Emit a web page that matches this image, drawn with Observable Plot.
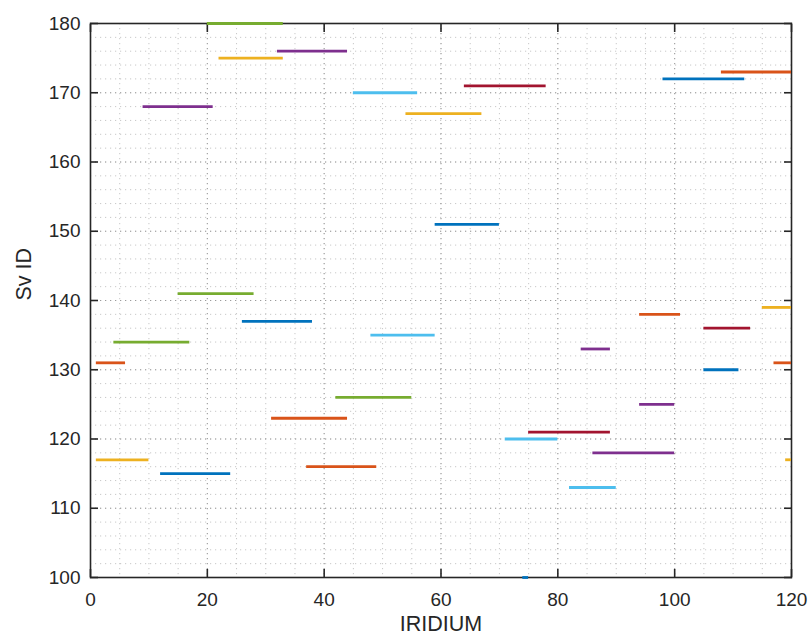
<!DOCTYPE html>
<html>
<head>
<meta charset="utf-8">
<script src="https://cdn.jsdelivr.net/npm/d3@7"></script>
<script src="https://cdn.jsdelivr.net/npm/@observablehq/plot@0.6"></script>
<style>
  html, body { margin: 0; padding: 0; background: #fff; }
  #chart svg { display: block; }
</style>
</head>
<body>
<div id="chart"></div>
<script>
// Satellite visibility passes: Sv ID, start, end (IRIDIUM axis), colour group
const svIds  = [100, 113, 115, 116, 117, 117, 118, 120, 121, 123, 125, 126, 130, 131, 131, 133, 134,
                135, 136, 137, 138, 139, 141, 151, 167, 168, 170, 171, 172, 173, 175, 176, 180];
const starts = [74, 82, 12, 37, 1, 119, 86, 71, 75, 31, 94, 42, 105, 1, 117, 84, 4,
                48, 105, 26, 94, 115, 15, 59, 54, 9, 45, 64, 98, 108, 22, 32, 20];
const ends   = [75, 90, 24, 49, 10, 120, 100, 80, 89, 44, 100, 55, 111, 6, 120, 89, 17,
                59, 113, 38, 101, 120, 28, 70, 67, 21, 56, 78, 112, 120, 33, 44, 33];
const groups = [0, 5, 0, 1, 2, 2, 3, 5, 6, 1, 3, 4, 0, 1, 1, 3, 4,
                5, 6, 0, 1, 2, 4, 0, 2, 3, 5, 6, 0, 1, 2, 3, 4];

const palette = ["#0072BD", "#D95319", "#EDB120", "#7E2F8E", "#77AC30", "#4DBEEE", "#A2142F"];

const xMajor = [0, 20, 40, 60, 80, 100, 120];
const yMajor = [100, 110, 120, 130, 140, 150, 160, 170, 180];
const xMinor = d3.range(5, 120, 5);
const yMinor = d3.range(102, 180, 2);

const data = svIds.map((sv, i) => ({sv, start: starts[i], end: ends[i], g: groups[i]}));

const axisColor = "#262626";
const font = "'Liberation Sans', Arial, Helvetica, sans-serif";

const chart = Plot.plot({
  width: 809,
  height: 640,
  marginLeft: 90,
  marginRight: 18,
  marginTop: 23,
  marginBottom: 63,
  style: {fontFamily: font, color: axisColor, background: "#fff"},
  x: {domain: [0, 120], ticks: xMajor},
  y: {domain: [100, 180], ticks: yMajor},
  color: {type: "ordinal", domain: d3.range(7), range: palette},
  marks: [
    // minor grid
    Plot.gridX(xMinor, {stroke: "#b0b0b0", strokeOpacity: 0.7, strokeDasharray: "1.2,3.8", strokeWidth: 1}),
    Plot.gridY(yMinor, {stroke: "#b0b0b0", strokeOpacity: 0.7, strokeDasharray: "1.2,3.8", strokeWidth: 1}),
    // major grid
    Plot.gridX(xMajor.slice(1, -1), {stroke: "#909090", strokeOpacity: 0.8, strokeDasharray: "1.2,3.8", strokeWidth: 1}),
    Plot.gridY(yMajor.slice(1, -1), {stroke: "#909090", strokeOpacity: 0.8, strokeDasharray: "1.2,3.8", strokeWidth: 1}),
    Plot.frame({stroke: axisColor, strokeWidth: 1.6}),
    // inward ticks on all sides
    Plot.axisX(xMajor, {anchor: "bottom", tickSize: -8, strokeWidth: 1.6, stroke: axisColor, tickFormat: () => "", label: null}),
    Plot.axisX(xMajor, {anchor: "top", tickSize: -8, strokeWidth: 1.6, stroke: axisColor, tickFormat: () => "", label: null}),
    Plot.axisY(yMajor, {anchor: "left", tickSize: -8, strokeWidth: 1.6, stroke: axisColor, tickFormat: () => "", label: null}),
    Plot.axisY(yMajor, {anchor: "right", tickSize: -8, strokeWidth: 1.6, stroke: axisColor, tickFormat: () => "", label: null}),
    // tick labels
    Plot.axisX(xMajor, {anchor: "bottom", tickSize: 0, tickPadding: 15, fontSize: 19, fill: axisColor, label: null}),
    Plot.axisY(yMajor, {anchor: "left", tickSize: 0, tickPadding: 10, fontSize: 19, fill: axisColor, label: null}),
    // segments
    Plot.ruleY(data, {y: "sv", x1: "start", x2: "end", stroke: "g", strokeWidth: 2.8}),
    // axis titles
    Plot.text(["IRIDIUM"], {frameAnchor: "bottom", dy: 53, fontSize: 21.5, fill: axisColor}),
    Plot.text(["Sv ID"], {frameAnchor: "left", dx: -66, rotate: -90, fontSize: 21.5, fill: axisColor})
  ]
});

document.getElementById("chart").appendChild(chart);
</script>
</body>
</html>
